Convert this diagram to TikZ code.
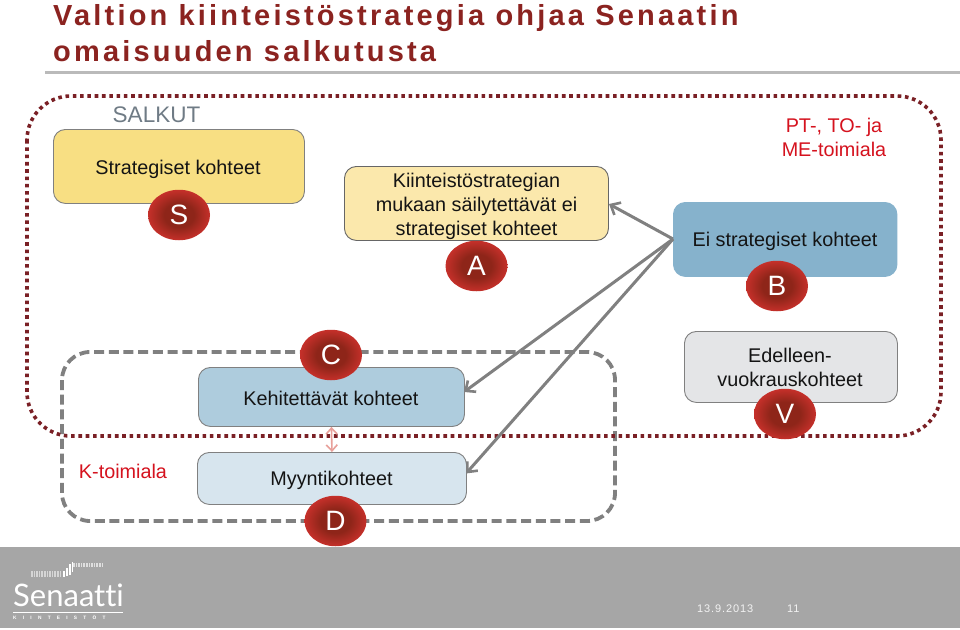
\documentclass[tikz,border=0pt]{standalone}
\usepackage{fontspec}
\setmainfont{Liberation Sans}
\newfontfamily\titlefont[LetterSpace=11]{Liberation Sans}
\newfontfamily\datefont[LetterSpace=8]{Liberation Sans}
\newfontfamily\tinyfont[LetterSpace=130]{Liberation Sans}
\newfontfamily\logofont[Ligatures=NoCommon]{Lato}
\usetikzlibrary{shapes.geometric,arrows.meta}
\definecolor{titlered}{HTML}{8B2320}
\definecolor{dotred}{HTML}{7A2025}
\definecolor{dashgray}{HTML}{808080}
\definecolor{foot}{HTML}{A6A6A6}
\definecolor{labelred}{HTML}{D5121E}
\definecolor{badgein}{HTML}{8E2519}
\definecolor{badgeout}{HTML}{C5302A}
\definecolor{fstrat}{RGB}{248,223,131}
\definecolor{fkiint}{RGB}{251,232,172}
\definecolor{feistr}{RGB}{134,178,204}
\definecolor{fkehit}{RGB}{174,204,221}
\definecolor{fmyynti}{RGB}{215,229,238}
\definecolor{fedell}{RGB}{228,229,231}
\definecolor{salkutc}{RGB}{111,123,133}
\definecolor{pinkc}{RGB}{232,160,154}
\pgfdeclareradialshading{ovalred}{\pgfpoint{0bp}{0bp}}{color(0bp)=(badgein);color(12bp)=(badgein);color(25bp)=(badgeout);color(50bp)=(badgeout)}
\tikzset{
  x=1pt,y=-1pt,
  txt/.style={font=\fontsize{19.8}{24}\selectfont,align=center,text=black!92,inner sep=0pt},
  boxn/.style={rounded corners=12pt,draw=#1,line width=0.9pt,inner sep=0pt,anchor=north west},
  badge/.style={ellipse,minimum width=62pt,minimum height=50.5pt,inner sep=0pt,shading=ovalred,text=white,font=\fontsize{28}{28}\selectfont},
  flow/.style={draw=dashgray,line width=3pt,-{Straight Barb[length=8pt,width=14pt,line width=2.6pt]}},
  redlbl/.style={text=labelred,font=\fontsize{19.8}{24}\selectfont,align=center,inner sep=0pt},
}
\begin{document}
\begin{tikzpicture}
\useasboundingbox (0,0) rectangle (960,629);
\fill[white] (0,0) rectangle (960,629);
% title
\node[anchor=base west,inner sep=0pt,text=titlered,font=\titlefont\fontsize{29}{29}\selectfont\bfseries] (t1) at (53,25.5) {Valtion kiinteistöstrategia ohjaa Senaatin};
\node[anchor=base west,inner sep=0pt,text=titlered,font=\titlefont\fontsize{29}{29}\selectfont\bfseries] (t2) at (53,61.5) {omaisuuden salkutusta};
\fill[black!27] (45,70.5) rectangle (960,74);
% footer
\fill[foot] (0,547) rectangle (960,628);
% frames
\draw[dashgray,line width=3.8pt,dash pattern=on 10pt off 4.7pt,rounded corners=28pt] (62,352) rectangle (615,521);
\draw[dotred,line width=3.6pt,dash pattern=on 3.6pt off 3.7pt,rounded corners=44pt] (27,96) rectangle (941,436);
% boxes
\node[boxn=black!50,fill=fstrat,minimum width=251pt,minimum height=74pt] (strat) at (53,129) {};
\node[boxn=black!60,fill=fkiint,minimum width=264pt,minimum height=74pt] (kiint) at (344,166) {};
\node[boxn=feistr,fill=feistr,minimum width=223.5pt,minimum height=74pt] (eistr) at (673,202) {};
\node[boxn=black!50,fill=fkehit,minimum width=266pt,minimum height=59pt] (kehit) at (198,367) {};
\node[boxn=black!50,fill=fmyynti,minimum width=269pt,minimum height=52pt] (myynti) at (197,452) {};
\node[boxn=black!50,fill=fedell,minimum width=213pt,minimum height=71pt] (edell) at (684,331) {};
% box texts
\node[txt] (tstrat) at (178,169) {Strategiset kohteet};
\node[txt] (tkiint) at (476.5,206) {Kiinteistöstrategian\\mukaan säilytettävät ei\\strategiset kohteet};
\node[txt] (teistr) at (785,241) {Ei strategiset kohteet};
\node[txt] (tkehit) at (331,398) {Kehitettävät kohteet};
\node[txt] (tmyynti) at (331.5,480.5) {Myyntikohteet};
\node[txt] (tedell) at (790,367) {Edelleen-\\vuokrauskohteet};
% badges
\node[badge] (S) at (179,215) {S};
\node[badge] (A) at (476.5,266) {A};
\node[badge] (B) at (777,286) {B};
\node[badge] (C) at (331,355) {C};
\node[badge] (D) at (335.5,521) {D};
\node[badge] (V) at (785,414) {V};
% labels
\node[inner sep=0pt,text=salkutc,font=\fontsize{22.5}{24}\selectfont] (salkut) at (156.5,115) {SALKUT};
\node[redlbl] (pt) at (834,137) {PT-, TO- ja\\ME-toimiala};
\node[redlbl] (kt) at (123,471.5) {K-toimiala};
% connectors
\coordinate (bl) at (673,239);
\coordinate (ain) at (609,204);
\coordinate (cin) at (464,392);
\coordinate (din) at (466,473.5);
\draw[flow] (bl) -- (ain);
\draw[flow] (bl) -- (cin);
\draw[flow] (bl) -- (din);
\draw[draw=pinkc,line width=1.6pt,{Straight Barb[length=6pt,width=11pt]}-{Straight Barb[length=6pt,width=11pt]}] (kehit.south) -- (myynti.north);
% footer text
\node[anchor=base west,inner sep=0pt,text=black!5,font=\datefont\fontsize{11}{12}\selectfont] (date) at (697,612) {13.9.2013};
\node[anchor=base west,inner sep=0pt,text=black!5,font=\datefont\fontsize{11}{12}\selectfont] (page) at (787,612) {11};
% logo
\foreach \i in {0,...,11} \fill[white,opacity=.55] ({31+\i*2.6},571) rectangle ({32.6+\i*2.6},577);
\foreach \i in {0,...,11} \fill[white,opacity=.65] ({73+\i*2.6},563) rectangle ({74.6+\i*2.6},567);
\foreach \x/\t/\b in {63/571/577,66/568/576,69/564/575,71.5/562/572}
  \fill[white] (\x,\t) rectangle (\x+1.6,\b);
\node[anchor=base west,inner sep=0pt,text=white,font=\logofont\fontsize{31}{31}\selectfont] (logo) at (13,606.5) {Senaatti};
\fill[white] (13,611.5) rectangle (123,613);
\node[anchor=base west,inner sep=0pt,text=white,font=\tinyfont\fontsize{4.8}{5}\selectfont\bfseries] (kiin) at (13,619.5) {KIINTEISTÖT};
\end{tikzpicture}
\end{document}
